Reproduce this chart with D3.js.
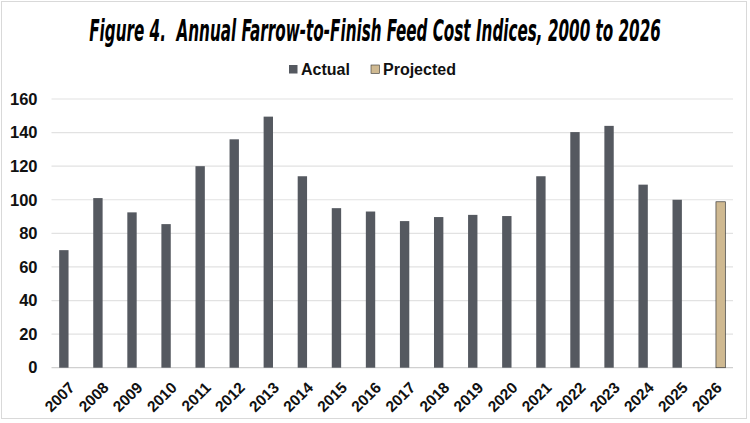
<!DOCTYPE html>
<html>
<head>
<meta charset="utf-8">
<script src="https://cdn.jsdelivr.net/npm/d3@7"></script>
<style>
  body { margin: 0; background: #fff; }
  svg { display: block; }
</style>
</head>
<body>
<svg id="chart"></svg>
<script>
// Data
const years = ["2007", "2008", "2009", "2010", "2011", "2012", "2013", "2014", "2015", "2016",
               "2017", "2018", "2019", "2020", "2021", "2022", "2023", "2024", "2025", "2026"];
const actual = [70, 101, 92.5, 85.5, 120, 136, 149.5, 114, 95, 93,
                87.3, 89.7, 91, 90.3, 114, 140.3, 144, 109, 100, null];
const projected = [null, null, null, null, null, null, null, null, null, null,
                   null, null, null, null, null, null, null, null, null, 98.8];
const seriesNames = ["Actual", "Projected"];
const yTicks = [0, 20, 40, 60, 80, 100, 120, 140, 160];

const W = 750, H = 423;
const margin = { top: 99, right: 17, bottom: 55, left: 51.5 };
const width = W - margin.left - margin.right;
const height = 367.7 - margin.top;

const colors = { Actual: "#555960", Projected: "#cfb991" };

const svg = d3.select("#chart").attr("width", W).attr("height", H);

// Chart area border
svg.append("rect")
    .attr("x", 1.5).attr("y", 1.5)
    .attr("width", 745).attr("height", 417)
    .attr("fill", "#fff")
    .attr("stroke", "#d9d9d9");

// Title: condensed italic, squeezed to the reference width with a scale
const title = svg.append("text")
    .attr("text-anchor", "middle")
    .attr("font-family", "'Liberation Sans Narrow', 'DejaVu Sans Condensed', sans-serif")
    .attr("font-style", "italic")
    .attr("font-weight", "bold")
    .attr("font-size", 31)
    .attr("fill", "#000")
    .text("Figure 4.\u00a0 Annual Farrow-to-Finish Feed Cost Indices, 2000 to 2026");
const tw = title.node().getComputedTextLength();
const sx = Math.min(1, 572 / tw);
title.attr("transform", "translate(375,41) scale(" + sx + ",1)");

// Legend
const legendPos = [{ name: "Actual", x: 289 }, { name: "Projected", x: 371 }];
const legend = svg.append("g");
legendPos.forEach(function(l) {
  legend.append("rect")
      .attr("x", l.x).attr("y", 65)
      .attr("width", 8.5).attr("height", 8.5)
      .attr("fill", colors[l.name])
      .attr("stroke", l.name === "Projected" ? "#333" : "none")
      .attr("stroke-width", 0.6);
  legend.append("text")
      .attr("x", l.x + 12).attr("y", 75)
      .attr("font-family", "'Liberation Sans', Arial, sans-serif")
      .attr("font-weight", "bold")
      .attr("font-size", 16)
      .attr("fill", "#111")
      .text(l.name);
});

const g = svg.append("g")
    .attr("transform", "translate(" + margin.left + "," + margin.top + ")");

// Scales
const x = d3.scaleBand()
    .domain(years)
    .range([0, width])
    .paddingInner(0.45)
    .paddingOuter(0.225);

const x1 = d3.scaleBand()
    .domain(seriesNames)
    .range([0, x.bandwidth()]);

const y = d3.scaleLinear()
    .domain([0, 160])
    .range([height, 0]);

// Gridlines
g.append("g")
    .selectAll("line")
    .data(yTicks)
    .enter().append("line")
    .attr("x1", 0).attr("x2", width)
    .attr("y1", d => y(d)).attr("y2", d => y(d))
    .attr("stroke", d => d === 0 ? "#d0d0d0" : "#e2e2e2")
    .attr("stroke-width", 1.2);

// Y axis
const yAxis = g.append("g")
    .call(d3.axisLeft(y).tickValues(yTicks).tickSize(0).tickPadding(14));
yAxis.select(".domain").remove();
yAxis.selectAll("text")
    .attr("font-family", "'Liberation Sans', Arial, sans-serif")
    .attr("font-weight", "bold")
    .attr("font-size", 16.5)
    .attr("fill", "#111");

// Bars
const barData = [];
years.forEach(function(yr, i) {
  if (actual[i] != null) barData.push({ year: yr, series: "Actual", value: actual[i] });
  if (projected[i] != null) barData.push({ year: yr, series: "Projected", value: projected[i] });
});

g.selectAll(".bar")
    .data(barData)
    .enter().append("rect")
    .attr("class", "bar")
    .attr("x", d => x(d.year) + x1(d.series))
    .attr("y", d => y(d.value))
    .attr("width", x1.bandwidth())
    .attr("height", d => y(0) - y(d.value))
    .attr("fill", d => colors[d.series])
    .attr("stroke", d => d.series === "Projected" ? "#3a3a3a" : "none")
    .attr("stroke-width", 0.7);

// X axis labels, rotated 45 degrees
const xAxis = g.append("g")
    .attr("transform", "translate(0," + height + ")")
    .call(d3.axisBottom(x).tickSize(0).tickPadding(0));
xAxis.select(".domain").remove();
xAxis.selectAll("text")
    .attr("font-family", "'Liberation Sans', Arial, sans-serif")
    .attr("font-weight", "bold")
    .attr("font-size", 15.5)
    .attr("fill", "#111")
    .attr("text-anchor", "end")
    .attr("dy", 0)
    .attr("transform", "translate(7,21) rotate(-45)");
</script>
</body>
</html>
